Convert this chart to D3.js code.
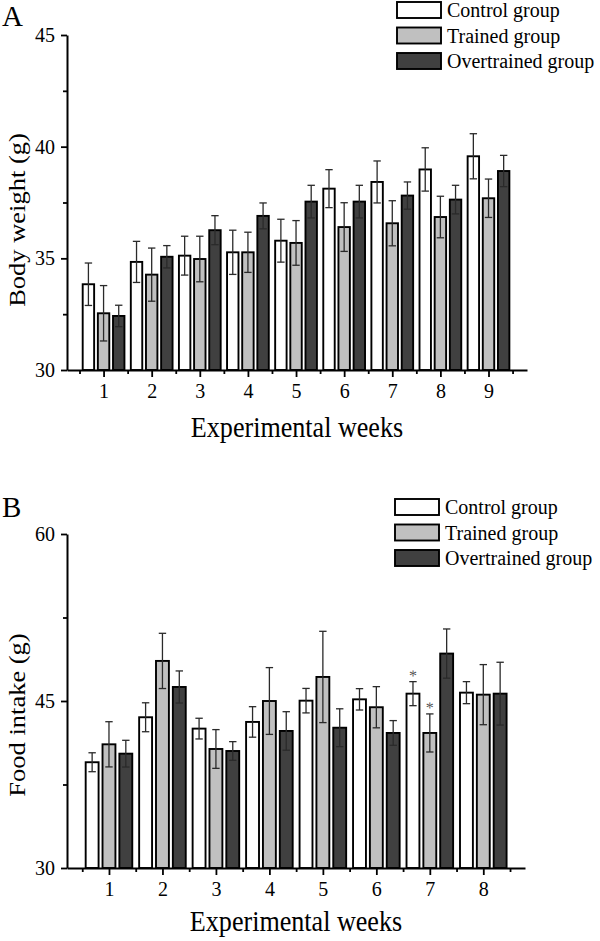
<!DOCTYPE html>
<html><head><meta charset="utf-8">
<script src="https://cdn.jsdelivr.net/npm/d3@7"></script>
<style>body{margin:0;background:#fff}svg{display:block}text{font-family:"Liberation Serif","Times New Roman",serif;fill:#000}</style>
</head><body>
<script>
const groups = ["Control group","Trained group","Overtrained group"];
const groupFill = ["#ffffff","#c0c0c0","#404040"];

// Panel A: body weight (g)
const weeksA = [1,2,3,4,5,6,7,8,9];
const bwControl = [33.84,34.84,35.12,35.27,35.79,38.12,38.42,38.98,39.57];
const bwControlErr = [0.95,0.92,0.87,0.99,0.96,0.85,0.94,0.97,1.01];
const bwTrained = [32.54,34.27,34.97,35.27,35.69,36.40,36.57,36.85,37.69];
const bwTrainedErr = [1.24,1.19,1.02,0.90,1.00,1.09,1.01,0.93,0.86];
const bwOver = [32.42,35.07,36.26,36.90,37.54,37.54,37.81,37.63,38.91];
const bwOverErr = [0.48,0.50,0.65,0.58,0.73,0.73,0.61,0.64,0.70];
const yTicksA = [30,35,40,45];
const yMinorA = [32.5,37.5,42.5];

// Panel B: food intake (g)
const weeksB = [1,2,3,4,5,6,7,8];
const fiControl = [39.50,43.54,42.52,43.12,45.03,45.15,45.66,45.75];
const fiControlErr = [0.85,1.30,0.93,1.37,1.10,0.96,1.08,0.99];
const fiTrained = [41.11,48.60,40.69,45.00,47.16,44.44,42.13,45.57];
const fiTrainedErr = [2.03,2.48,1.74,3.00,4.10,1.85,1.71,2.70];
const fiOver = [40.27,46.26,40.51,42.31,42.60,42.13,49.26,45.66];
const fiOverErr = [1.20,1.44,0.84,1.73,1.70,1.11,2.21,2.82];
const yTicksB = [30,45,60];
const yMinorB = [37.5,52.5];
// significance markers: [week, group index]
const sigB = [[7,0],[7,1]];

const svg = d3.select("body").append("svg").attr("width",600).attr("height",941);

function panel(o){
  const g = svg.append("g");
  const x = d3.scaleLinear().domain(o.xDomain).range(o.xRange);
  const y = d3.scaleLinear().domain(o.yDomain).range(o.yRange);
  const unit = x(1)-x(0);
  const series = [o.s0,o.s1,o.s2];
  const errs = [o.e0,o.e1,o.e2];
  const off = 0.315, bw = 0.275;
  // bars
  series.forEach((s,j)=>{
    g.selectAll(null).data(o.weeks).enter().append("rect")
      .attr("x",(w)=>x(w+(j-1)*off-bw/2)+0.9)
      .attr("width",bw*unit-1.8)
      .attr("y",(w,i)=>y(s[i]))
      .attr("height",(w,i)=>y(o.yDomain[0])-y(s[i]))
      .attr("fill",groupFill[j]).attr("stroke","#000").attr("stroke-width",1.9);
  });
  // error bars
  series.forEach((s,j)=>{
    const e = errs[j];
    o.weeks.forEach((w,i)=>{
      const cx = x(w+(j-1)*off);
      const col = "#2a2a2a";
      g.append("line").attr("x1",cx).attr("x2",cx).attr("y1",y(s[i]-e[i])).attr("y2",y(s[i]+e[i])).attr("stroke",col).attr("stroke-width",1.3);
      [s[i]-e[i],s[i]+e[i]].forEach(v=>{
        g.append("line").attr("x1",cx-3.7).attr("x2",cx+3.7).attr("y1",y(v)).attr("y2",y(v)).attr("stroke",col).attr("stroke-width",1.3);
      });
    });
  });
  // significance
  if(o.sig){
    o.sig.forEach(([w,j])=>{
      const i = o.weeks.indexOf(w);
      const s = series[j], e = errs[j];
      g.append("text").attr("x",x(w+(j-1)*off)).attr("y",y(s[i]+e[i])-1)
        .attr("text-anchor","middle").style("font-size","16px").style("fill","#555")
        .style("text-rendering","geometricPrecision").text("*");
    });
  }
  // y axis
  const ya = g.append("g").attr("transform",`translate(${o.xRange[0]},0)`)
    .call(d3.axisLeft(y).tickValues(o.yTicks).tickSize(6).tickSizeOuter(0).tickPadding(6).tickFormat(d3.format("d")));
  ya.select(".domain").attr("stroke-width",2);
  ya.selectAll(".tick line").attr("stroke-width",1.8);
  ya.selectAll(".tick text").style("font-size","20px").attr("font-family",null);
  const ym = g.append("g").attr("transform",`translate(${o.xRange[0]},0)`)
    .call(d3.axisLeft(y).tickValues(o.yMinor).tickSize(4).tickFormat(""));
  ym.select(".domain").remove();
  ym.selectAll(".tick line").attr("stroke-width",1.8);
  // x axis
  const xa = g.append("g").attr("transform",`translate(0,${o.yRange[0]})`)
    .call(d3.axisBottom(x).tickValues(o.weeks).tickSize(7).tickSizeOuter(0).tickPadding(7).tickFormat(d3.format("d")));
  xa.select(".domain").attr("stroke-width",2);
  xa.selectAll(".tick line").attr("stroke-width",1.8);
  xa.selectAll(".tick text").style("font-size","20px").attr("font-family",null);
  const minorX = [0].concat(o.weeks).map(w=>w+0.5);
  const xm = g.append("g").attr("transform",`translate(0,${o.yRange[0]})`)
    .call(d3.axisBottom(x).tickValues(minorX).tickSize(4).tickFormat(""));
  xm.select(".domain").remove();
  xm.selectAll(".tick line").attr("stroke-width",1.8);
  // titles
  const cx = (o.xRange[0]+o.xRange[1])/2;
  g.append("text").attr("transform",`translate(${cx},${o.xTitleY}) scale(0.87,1)`)
    .attr("text-anchor","middle").style("font-size","30px").text("Experimental weeks");
  g.append("text").attr("transform",`translate(${o.yTitleX},${o.yTitleCY}) scale(0.88,1) rotate(-90)`)
    .attr("text-anchor","middle").style("font-size","26.5px").text(o.yTitle);
  g.append("text").attr("x",2).attr("y",o.letterY).style("font-size","29px").text(o.letter);
  // legend
  groups.forEach((name,j)=>{
    const ry = o.legY + j*25.5;
    g.append("rect").attr("x",o.legX+1).attr("y",ry+1).attr("width",44).attr("height",16)
      .attr("fill",groupFill[j]).attr("stroke","#000").attr("stroke-width",1.9);
    g.append("text").attr("x",o.legX+51).attr("y",ry+16).style("font-size","20px").text(name);
  });
}

panel({xDomain:[0.24,9.8], xRange:[67,527], yDomain:[30,45], yRange:[370,35],
  weeks:weeksA, s0:bwControl, e0:bwControlErr, s1:bwTrained, e1:bwTrainedErr, s2:bwOver, e2:bwOverErr,
  yTicks:yTicksA, yMinor:yMinorA, yTitle:"Body weight (g)", letter:"A", letterY:26,
  xTitleY:437, yTitleX:25, yTitleCY:220, legX:396, legY:1});

panel({xDomain:[0.215,8.78], xRange:[67,525], yDomain:[30,60], yRange:[868,534],
  weeks:weeksB, s0:fiControl, e0:fiControlErr, s1:fiTrained, e1:fiTrainedErr, s2:fiOver, e2:fiOverErr,
  yTicks:yTicksB, yMinor:yMinorB, yTitle:"Food intake (g)", letter:"B", letterY:517, sig:sigB,
  xTitleY:931, yTitleX:25, yTitleCY:715, legX:394, legY:498});
</script>
</body></html>
